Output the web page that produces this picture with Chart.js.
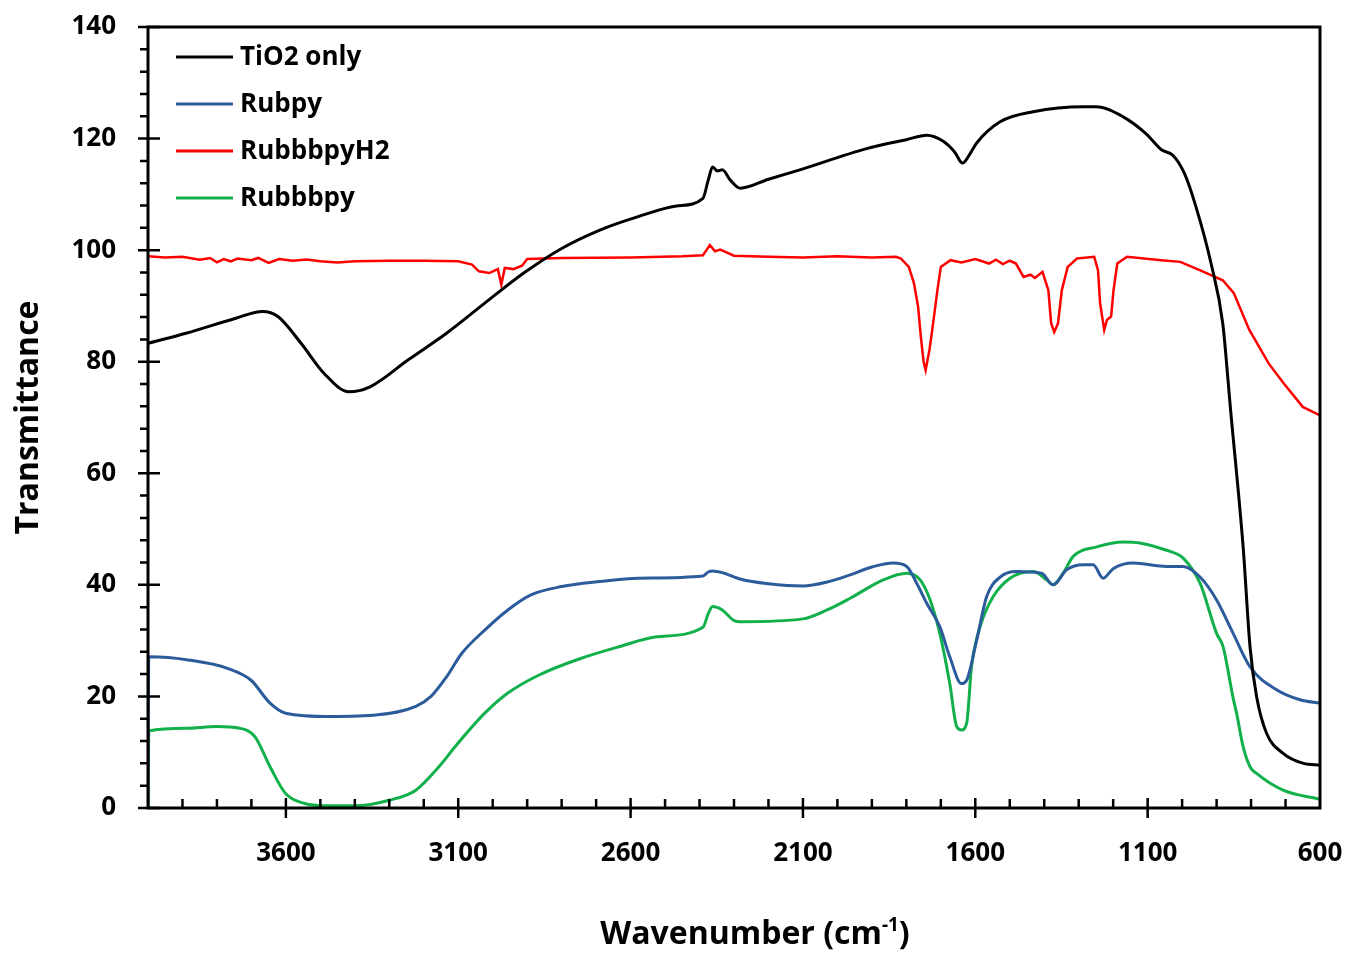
<!DOCTYPE html>
<html>
<head>
<meta charset="utf-8">
<title>FTIR Transmittance</title>
<script src="https://cdn.jsdelivr.net/npm/chart.js@4.4.1/dist/chart.umd.min.js"></script>
<style>
  body { margin: 0; background: #ffffff; }
  #plot-container { width: 1347px; height: 954px; }
</style>
</head>
<body>
<div id="plot-container"><canvas id="ftir" width="1347" height="954"></canvas></div>
<script>
// ---- data (wavenumber in cm-1, transmittance) ----
const seriesNames = ["TiO2 only", "Rubpy", "RubbbpyH2", "Rubbbpy"];

const tioWave = [4000, 3890, 3745, 3668, 3623, 3556, 3489, 3417, 3356, 3246, 3134, 3023, 2912, 2800, 2689, 2578, 2467, 2390, 2375, 2362, 2348, 2334, 2310, 2282, 2200, 2109, 1915, 1800, 1741, 1693, 1660, 1637, 1615, 1596, 1528, 1432, 1287, 1250, 1171, 1105, 1060, 1027, 993, 960, 916, 882, 866, 861, 823, 803, 784, 755, 707, 648, 600];
const tioT = [83.3, 85.1, 87.8, 89.0, 88.1, 83.3, 77.9, 74.6, 75.5, 80.3, 85.1, 90.5, 95.8, 100.3, 103.6, 106.0, 107.9, 109.3, 112.5, 114.9, 114.2, 114.4, 112.5, 111.1, 112.7, 114.4, 118.2, 119.8, 120.6, 119.5, 117.6, 115.6, 117.3, 119.2, 123.0, 124.8, 125.7, 125.7, 123.9, 120.9, 118.0, 117.0, 113.7, 107.8, 97.6, 86.8, 76.1, 72.5, 46.8, 28.9, 20.0, 13.4, 9.8, 8.0, 7.7];

const rubpyWave = [4000, 3998, 3879, 3768, 3701, 3646, 3601, 3468, 3334, 3223, 3179, 3134, 3090, 3023, 2956, 2889, 2800, 2689, 2578, 2390, 2375, 2362, 2334, 2280, 2200, 2100, 2030, 1963, 1900, 1838, 1799, 1770, 1741, 1703, 1674, 1640, 1625, 1596, 1567, 1528, 1480, 1408, 1374, 1335, 1287, 1258, 1229, 1200, 1142, 1045, 997, 948, 900, 852, 803, 726, 658, 600];
const rubpyT = [0, 27.1, 26.5, 25.0, 22.9, 18.8, 17.0, 16.4, 16.7, 18.2, 20.0, 23.5, 27.7, 31.9, 35.5, 38.2, 39.7, 40.6, 41.2, 41.6, 42.3, 42.5, 42.2, 41.0, 40.2, 39.8, 40.5, 41.8, 43.2, 43.9, 43.3, 40.3, 36.7, 32.5, 27.1, 22.3, 22.9, 30.1, 37.9, 41.4, 42.4, 42.1, 40.0, 42.7, 43.6, 43.6, 41.2, 42.9, 43.9, 43.3, 43.3, 41.4, 37.3, 31.3, 25.3, 21.2, 19.4, 18.8];

const rubH2Wave = [4000, 3950, 3900, 3850, 3820, 3800, 3780, 3760, 3740, 3700, 3680, 3650, 3620, 3580, 3540, 3500, 3450, 3400, 3300, 3200, 3100, 3060, 3040, 3010, 2985, 2975, 2965, 2940, 2915, 2900, 2800, 2600, 2450, 2390, 2370, 2355, 2340, 2300, 2200, 2100, 2000, 1900, 1830, 1816, 1793, 1778, 1766, 1758, 1750, 1744, 1738, 1733, 1721, 1710, 1700, 1672, 1640, 1600, 1560, 1540, 1520, 1500, 1482, 1460, 1440, 1427, 1405, 1388, 1380, 1371, 1360, 1349, 1332, 1305, 1255, 1244, 1238, 1226, 1218, 1206, 1199, 1188, 1160, 1060, 1005, 949, 882, 850, 805, 749, 705, 650, 600];
const rubH2T = [98.9, 98.7, 98.8, 98.3, 98.6, 97.8, 98.4, 98.0, 98.5, 98.2, 98.6, 97.7, 98.4, 98.1, 98.3, 98.0, 97.8, 98.0, 98.1, 98.1, 98.0, 97.4, 96.2, 95.9, 96.6, 93.8, 96.8, 96.6, 97.2, 98.4, 98.6, 98.7, 98.9, 99.1, 100.9, 99.8, 100.1, 99.0, 98.8, 98.7, 98.9, 98.7, 98.8, 98.5, 97.0, 94.1, 89.9, 84.5, 80.0, 78.5, 80.5, 82.1, 87.5, 92.8, 97.0, 98.2, 97.8, 98.4, 97.6, 98.3, 97.5, 98.1, 97.6, 95.2, 95.6, 95.0, 96.1, 92.8, 86.9, 85.3, 86.9, 92.8, 97.0, 98.5, 98.8, 96.4, 90.5, 85.7, 87.5, 88.1, 92.8, 97.6, 98.8, 98.2, 97.9, 96.4, 94.6, 92.3, 85.7, 79.7, 76.1, 71.9, 70.4];

const rubbbWave = [4000, 3998, 3890, 3801, 3734, 3690, 3646, 3601, 3545, 3489, 3400, 3300, 3223, 3156, 3101, 3023, 2956, 2867, 2745, 2634, 2523, 2390, 2375, 2362, 2334, 2300, 2280, 2100, 2030, 1963, 1867, 1799, 1760, 1731, 1703, 1674, 1654, 1640, 1625, 1611, 1586, 1548, 1499, 1432, 1393, 1374, 1345, 1316, 1248, 1171, 1122, 1045, 997, 948, 900, 881, 852, 842, 823, 803, 784, 707, 610, 600];
const rubbbT = [0, 13.8, 14.3, 14.6, 14.3, 12.8, 7.4, 2.6, 0.8, 0.4, 0.4, 1.4, 3.2, 7.4, 11.6, 17.0, 20.6, 23.8, 26.8, 28.9, 30.7, 32.4, 34.8, 36.1, 35.5, 33.6, 33.4, 33.9, 35.5, 37.6, 40.9, 42.1, 40.9, 37.3, 31.3, 22.3, 14.6, 14.0, 15.2, 25.3, 32.5, 37.9, 41.2, 42.4, 40.9, 40.0, 42.1, 45.1, 46.8, 47.7, 47.5, 46.2, 44.8, 40.3, 31.3, 28.9, 19.7, 17.0, 11.0, 7.4, 6.2, 3.2, 1.7, 1.6];

const xTickValues = [3600, 3100, 2600, 2100, 1600, 1100, 600];
const yTickValues = [0, 20, 40, 60, 80, 100, 120, 140];

const seriesColors = ["#000000", "#2c5b9b", "#ff0000", "#12b04b"];
const FONT = "'Open Sans', 'Liberation Sans', sans-serif";

function toPoints(wave, vals) {
  return wave.map(function(w, i) { return { x: w, y: vals[i] }; });
}

// ticks, frame, x title (with the superscript) and in-plot legend are drawn by hand
const framePlugin = {
  id: "frameAndTicks",
  afterDraw: function(chart) {
    const ctx = chart.ctx;
    const area = chart.chartArea;
    const xs = chart.scales.x;
    const ys = chart.scales.y;
    ctx.save();
    ctx.strokeStyle = "#000000";
    ctx.lineWidth = 3;
    ctx.strokeRect(area.left, area.top, area.right - area.left, area.bottom - area.top);

    ctx.lineWidth = 2.5;
    ctx.beginPath();
    // y minor ticks every 4, outside
    for (let v = 0; v <= 140; v += 4) {
      const py = ys.getPixelForValue(v);
      if (v % 20 === 0) {
        ctx.moveTo(area.left - 10, py); ctx.lineTo(area.left + 12, py);
      } else {
        ctx.moveTo(area.left - 8, py); ctx.lineTo(area.left, py);
      }
    }
    // x minor ticks every 100, inside
    for (let w = 700; w < 4000; w += 100) {
      const px = xs.getPixelForValue(w);
      if ((w - 600) % 500 === 0) {
        ctx.moveTo(px, area.bottom - 10); ctx.lineTo(px, area.bottom + 10);
      } else {
        ctx.moveTo(px, area.bottom - 9); ctx.lineTo(px, area.bottom);
      }
    }
    ctx.stroke();

    // x axis title, cm-1 with a raised small "-1"
    ctx.fillStyle = "#000000";
    ctx.textBaseline = "alphabetic";
    ctx.textAlign = "left";
    const mainTxt = "Wavenumber (cm";
    const supTxt = "-1";
    const endTxt = ")";
    ctx.font = "bold 32px " + FONT;
    const w1 = ctx.measureText(mainTxt).width;
    const w3 = ctx.measureText(endTxt).width;
    ctx.font = "bold 19px " + FONT;
    const w2 = ctx.measureText(supTxt).width;
    let tx = 755 - (w1 + w2 + w3) / 2;
    const base = 944;
    ctx.font = "bold 32px " + FONT;
    ctx.fillText(mainTxt, tx, base);
    ctx.font = "bold 19px " + FONT;
    ctx.fillText(supTxt, tx + w1, base - 13);
    ctx.font = "bold 32px " + FONT;
    ctx.fillText(endTxt, tx + w1 + w2, base);

    //legend in the top left corner
    ctx.font = "bold 26px " + FONT;
    ctx.textBaseline = "middle";
    chart.data.datasets.forEach(function(ds, i) {
      const ly = 57 + i * 47;
      ctx.strokeStyle = ds.borderColor;
      ctx.lineWidth = 3;
      ctx.beginPath();
      ctx.moveTo(176, ly); ctx.lineTo(233, ly);
      ctx.stroke();
      ctx.fillText(ds.label, 240, ly + 1);
    });
    ctx.restore();
  }
};

// the tick padding is counted into the layout overflow, drop it so the plot box sits where it should
function noOverflow(scale) {
  scale.paddingTop = 0;
  scale.paddingBottom = 0;
  scale.paddingLeft = 0;
  scale.paddingRight = 0;
}

const datasets = [
  { label: seriesNames[0], data: toPoints(tioWave, tioT), borderColor: seriesColors[0], borderWidth: 3, cubicInterpolationMode: "monotone" },
  { label: seriesNames[1], data: toPoints(rubpyWave, rubpyT), borderColor: seriesColors[1], borderWidth: 3, cubicInterpolationMode: "monotone" },
  { label: seriesNames[2], data: toPoints(rubH2Wave, rubH2T), borderColor: seriesColors[2], borderWidth: 2.5, tension: 0 },
  { label: seriesNames[3], data: toPoints(rubbbWave, rubbbT), borderColor: seriesColors[3], borderWidth: 3, cubicInterpolationMode: "monotone" }
];

new Chart(document.getElementById("ftir"), {
  type: "line",
  data: { datasets: datasets },
  options: {
    responsive: false,
    animation: false,
    layout: { padding: { top: 27, right: 27, left: 0, bottom: 0 } },
    elements: { point: { radius: 0 }, line: { fill: false } },
    plugins: { legend: { display: false }, tooltip: { enabled: false } },
    scales: {
      x: {
        type: "linear",
        reverse: true,
        min: 600,
        max: 4000,
        grid: { display: false, drawTicks: false },
        border: { display: false },
        afterBuildTicks: function(scale) {
          scale.ticks = xTickValues.map(function(v) { return { value: v }; });
        },
        afterFit: function(scale) { scale.height = 146; noOverflow(scale); },
        ticks: {
          color: "#000000",
          padding: 30,
          maxRotation: 0,
          autoSkip: false,
          callback: function(v) { return String(v); },
          font: { family: FONT, size: 26, weight: "bold" }
        },
        title: { display: false }
      },
      y: {
        min: 0,
        max: 140,
        grid: { display: false, drawTicks: false },
        border: { display: false },
        afterBuildTicks: function(scale) {
          scale.ticks = yTickValues.map(function(v) { return { value: v }; });
        },
        afterFit: function(scale) { scale.width = 148; noOverflow(scale); },
        ticks: {
          color: "#000000",
          padding: 32,
          callback: function(v) { return String(v); },
          font: { family: FONT, size: 26, weight: "bold" }
        },
        title: {
          display: true,
          text: "Transmittance",
          color: "#000000",
          padding: { top: 10, bottom: 0 },
          font: { family: FONT, size: 32, weight: "bold" }
        }
      }
    }
  },
  plugins: [framePlugin]
});
</script>
</body>
</html>
